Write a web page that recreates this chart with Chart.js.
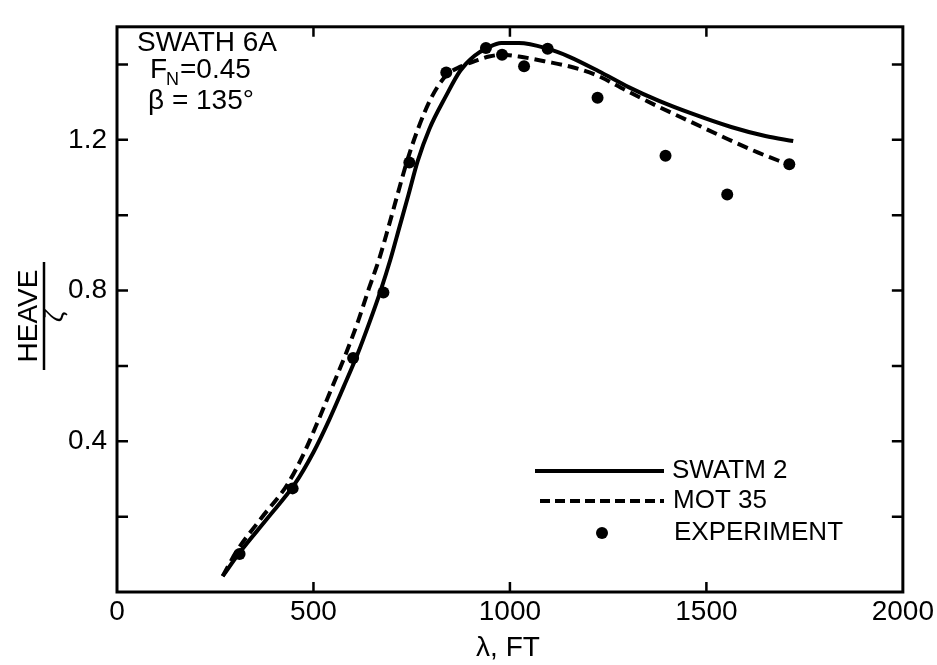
<!DOCTYPE html>
<html>
<head>
<meta charset="utf-8">
<script src="https://cdn.jsdelivr.net/npm/chart.js@4/dist/chart.umd.min.js"></script>
<style>
  html, body { margin: 0; padding: 0; background: #fff; }
  #wrap { width: 937px; height: 665px; }
</style>
</head>
<body>
<div id="wrap"><canvas id="heaveChart" width="937" height="665"></canvas></div>
<script>
// wavelength, ft
const swatmX = [269, 313, 384, 452, 500, 540, 577, 612, 643, 671, 696, 719, 742, 765, 795, 836, 874, 910, 943, 978, 1023, 1096, 1150, 1226, 1302, 1378, 1462, 1563, 1650, 1721];
const swatmY = [0.042, 0.106, 0.197, 0.286, 0.371, 0.457, 0.545, 0.631, 0.717, 0.800, 0.883, 0.969, 1.055, 1.143, 1.229, 1.314, 1.384, 1.423, 1.444, 1.457, 1.457, 1.442, 1.421, 1.382, 1.340, 1.304, 1.270, 1.234, 1.210, 1.197];

const motX = [269, 305, 368, 434, 477, 513, 548, 582, 613, 641, 667, 691, 714, 738, 766, 801, 838, 876, 914, 947, 980, 1023, 1091, 1162, 1226, 1294, 1378, 1462, 1548, 1632, 1708];
const motY = [0.042, 0.109, 0.197, 0.286, 0.371, 0.457, 0.545, 0.631, 0.717, 0.805, 0.883, 0.969, 1.055, 1.143, 1.229, 1.314, 1.371, 1.395, 1.410, 1.421, 1.426, 1.421, 1.408, 1.392, 1.369, 1.332, 1.288, 1.247, 1.205, 1.166, 1.135];

const expX = [312, 447, 601, 678, 744, 838, 939, 980, 1036, 1096, 1223, 1396, 1553, 1711];
const expY = [0.101, 0.275, 0.621, 0.795, 1.140, 1.379, 1.444, 1.426, 1.395, 1.442, 1.312, 1.158, 1.055, 1.135];

const xTicks = [0, 500, 1000, 1500, 2000];
const yTicks = [0.2, 0.4, 0.6, 0.8, 1.0, 1.2, 1.4];
const yLabels = ['0.4', '0.8', '1.2'];

const seriesNames = ['SWATM 2', 'MOT 35', 'EXPERIMENT'];

const FONT = '"Liberation Sans", Arial, sans-serif';

function pairs(xs, ys) {
    return xs.map((x, i) => ({ x: x, y: ys[i] }));
}

const framePlugin = {
    id: 'frame',
    afterDraw(chart) {
        const ctx = chart.ctx;
        const a = chart.chartArea;
        const xs = chart.scales.x;
        const ys = chart.scales.y;

        ctx.save();
        ctx.strokeStyle = '#000';
        ctx.fillStyle = '#000';
        ctx.lineWidth = 3;
        ctx.strokeRect(a.left, a.top, a.right - a.left, a.bottom - a.top);

        // inward ticks
        ctx.lineWidth = 2.5;
        ctx.beginPath();
        xTicks.slice(1, -1).forEach(v => {
            const px = xs.getPixelForValue(v);
            ctx.moveTo(px, a.bottom); ctx.lineTo(px, a.bottom - 10);
            ctx.moveTo(px, a.top); ctx.lineTo(px, a.top + 10);
        });
        yTicks.forEach(v => {
            const py = ys.getPixelForValue(v);
            ctx.moveTo(a.left, py); ctx.lineTo(a.left + 11, py);
            ctx.moveTo(a.right, py); ctx.lineTo(a.right - 11, py);
        });
        ctx.stroke();

        // case label
        ctx.textAlign = 'left';
        ctx.textBaseline = 'middle';
        ctx.font = '28px ' + FONT;
        ctx.fillText('SWATH 6A', 137, 43);
        ctx.fillText('F', 150, 70);
        ctx.font = '18px ' + FONT;
        ctx.fillText('N', 166, 80);
        ctx.font = '28px ' + FONT;
        ctx.fillText('=0.45', 180, 70);
        ctx.fillText('\u03B2 = 135\u00B0', 148, 101);

        // y axis title, a rotated fraction
        ctx.save();
        ctx.translate(38, 316);
        ctx.rotate(-Math.PI / 2);
        ctx.textAlign = 'center';
        ctx.font = '28px ' + FONT;
        ctx.fillText('HEAVE', 0, -9);
        ctx.lineWidth = 2.5;
        ctx.beginPath();
        ctx.moveTo(-54, 6); ctx.lineTo(54, 6);
        ctx.stroke();
        ctx.font = 'italic 26px ' + FONT;
        ctx.fillText('\u03B6', 0, 18);
        ctx.restore();

        // x axis title
        ctx.textAlign = 'center';
        ctx.font = '28px ' + FONT;
        ctx.fillText('\u03BB, FT', 508, 648);

        // legend
        ctx.textAlign = 'left';
        ctx.font = '26px ' + FONT;
        ctx.lineWidth = 4;
        ctx.beginPath();
        ctx.moveTo(535, 471); ctx.lineTo(664, 471);
        ctx.stroke();
        ctx.setLineDash([10, 5]);
        ctx.beginPath();
        ctx.moveTo(540, 501); ctx.lineTo(664, 501);
        ctx.stroke();
        ctx.setLineDash([]);
        ctx.beginPath();
        ctx.arc(602, 533, 6, 0, Math.PI * 2);
        ctx.fill();
        ctx.fillText(seriesNames[0], 672, 471);
        ctx.fillText(seriesNames[1], 673, 501);
        ctx.fillText(seriesNames[2], 674, 533);
        ctx.restore();
    }
};

new Chart(document.getElementById('heaveChart'), {
    type: 'line',
    data: {
        datasets: [{
            label: seriesNames[0],
            data: pairs(swatmX, swatmY),
            borderColor: '#000',
            borderWidth: 4,
            pointRadius: 0,
            cubicInterpolationMode: 'monotone',
            fill: false
        }, {
            label: seriesNames[1],
            data: pairs(motX, motY),
            borderColor: '#000',
            borderWidth: 4,
            borderDash: [11, 6],
            pointRadius: 0,
            cubicInterpolationMode: 'monotone',
            fill: false
        }, {
            label: seriesNames[2],
            data: pairs(expX, expY),
            showLine: false,
            pointRadius: 6,
            pointBackgroundColor: '#000',
            pointBorderColor: '#000',
            pointBorderWidth: 0
        }]
    },
    options: {
        responsive: false,
        animation: false,
        devicePixelRatio: 1,
        layout: { padding: { top: 14, right: 33, left: 0, bottom: 0 } },
        plugins: {
            legend: { display: false },
            tooltip: { enabled: false }
        },
        scales: {
            x: {
                type: 'linear',
                min: 0,
                max: 2000,
                afterFit(scale) { scale.height = 73; },
                afterBuildTicks(scale) { scale.ticks = xTicks.map(v => ({ value: v })); },
                grid: { display: false, drawTicks: false },
                border: { display: false },
                ticks: {
                    padding: 3,
                    maxRotation: 0,
                    autoSkip: false,
                    color: '#000',
                    font: { family: FONT, size: 28 },
                    callback: v => String(v)
                }
            },
            y: {
                type: 'linear',
                min: 0,
                max: 1.5,
                afterFit(scale) { scale.width = 117; },
                afterBuildTicks(scale) { scale.ticks = yTicks.map(v => ({ value: v })); },
                grid: { display: false, drawTicks: false },
                border: { display: false },
                ticks: {
                    padding: 10,
                    autoSkip: false,
                    color: '#000',
                    font: { family: FONT, size: 28 },
                    callback: v => {
                        const s = v.toFixed(1);
                        return yLabels.includes(s) ? s : '';
                    }
                }
            }
        }
    },
    plugins: [framePlugin]
});
</script>
</body>
</html>
